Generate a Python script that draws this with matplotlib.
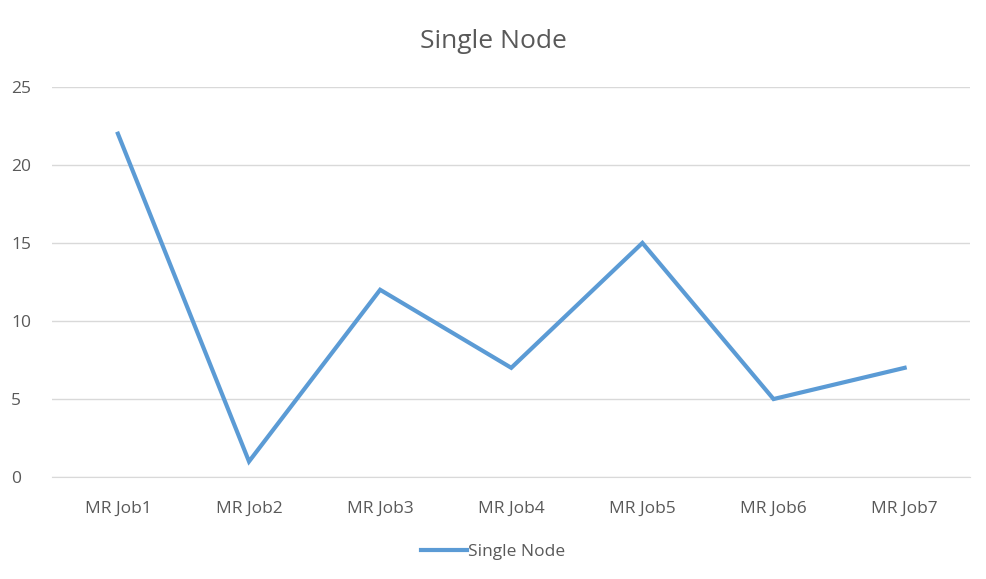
import matplotlib.pyplot as plt

jobs = ['MR Job1', 'MR Job2', 'MR Job3', 'MR Job4', 'MR Job5', 'MR Job6', 'MR Job7']
single_node = [22, 1, 12, 7, 15, 5, 7]

plt.rcParams['font.family'] = ['Open Sans', 'DejaVu Sans']
text_color = '#595959'

fig = plt.figure(figsize=(9.87, 5.79), dpi=100)
ax = fig.add_axes([0.053, 0.176, 0.930, 0.674])

x = range(len(jobs))
ax.plot(x, single_node, color='#5B9BD5', linewidth=3, label='Single Node', solid_joinstyle='miter')

ax.set_xlim(-0.5, len(jobs) - 0.5)
ax.set_ylim(0, 25)
ax.set_yticks(range(0, 26, 5))
ax.set_xticks(list(x))
ax.set_xticklabels(jobs)
ax.grid(axis='y', color='#D9D9D9', linewidth=1)
ax.set_axisbelow(True)
for side in ['top', 'right', 'left']:
    ax.spines[side].set_visible(False)
ax.spines['bottom'].set_color('#D9D9D9')
ax.tick_params(length=0, colors=text_color, labelsize=12.5)
ax.tick_params(axis='x', pad=17)
ax.tick_params(axis='y', pad=29.5)
for lbl in ax.get_yticklabels():
    lbl.set_horizontalalignment('left')

fig.text(0.50, 0.928, 'Single Node', ha='center', va='center', fontsize=19, color=text_color)
fig.legend(loc='center', bbox_to_anchor=(0.5, 0.047), frameon=False, fontsize=12.5,
           labelcolor=text_color, handlelength=2.6, handletextpad=0.1)

fig.savefig('out.png', dpi=100)
